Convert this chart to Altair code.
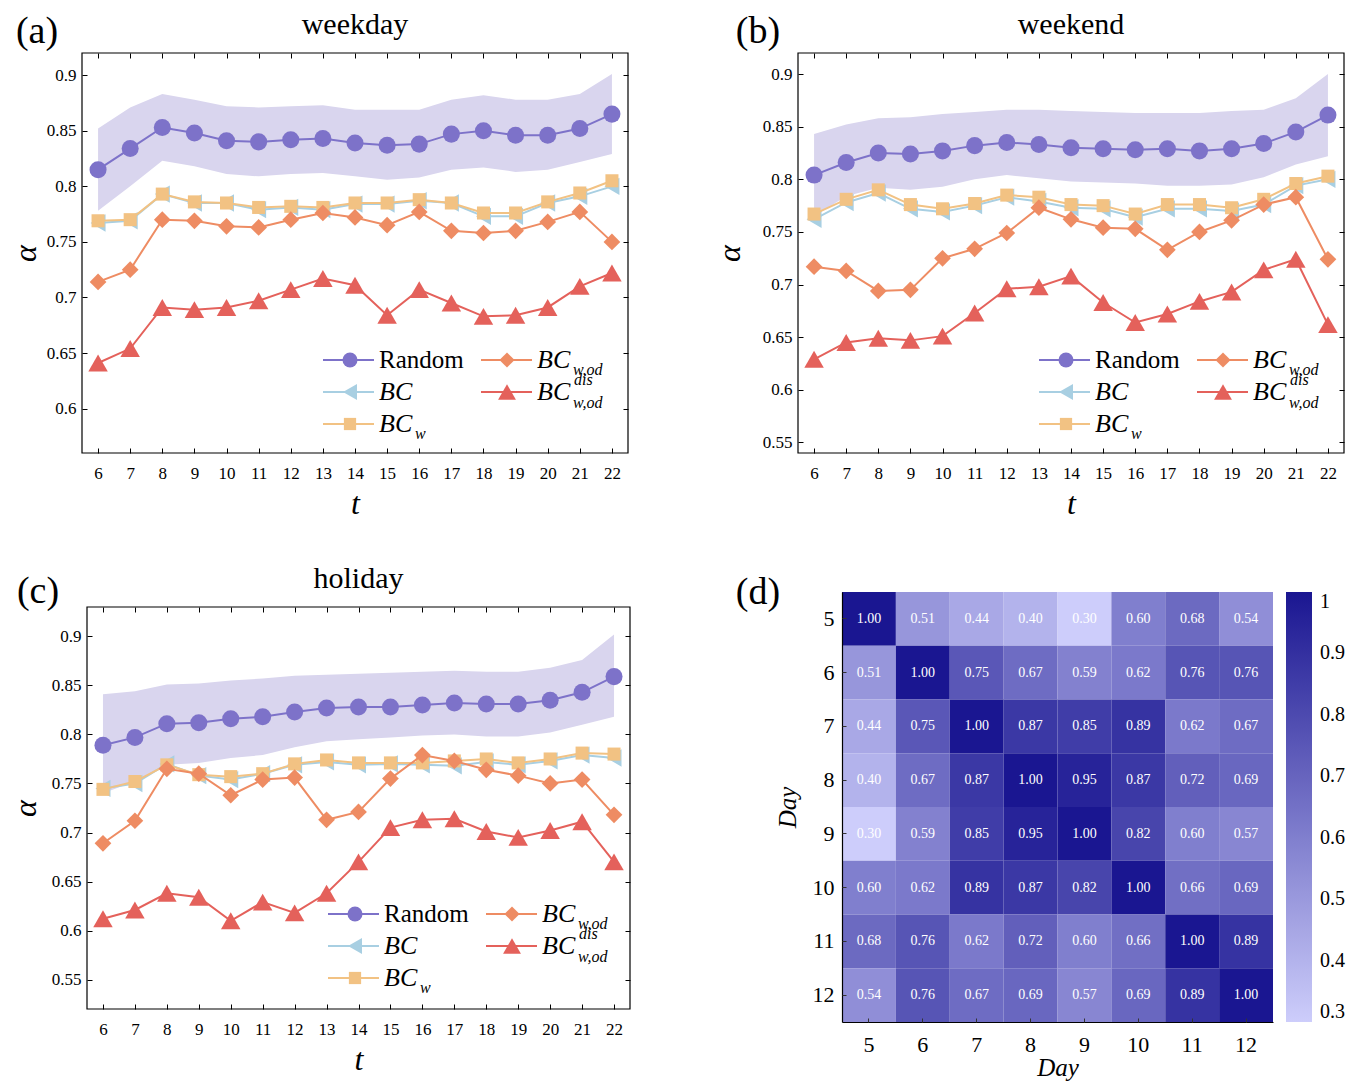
import altair as alt
import pandas as pd

SERIF = "Liberation Serif"

HOURS = list(range(6, 23))
SERIES = ["Random", "BC", "BC_w", "BC_w,od", "BC_w,od^dis"]
COLORS = ["#7d72c9", "#a8cfe2", "#f2c283", "#ee8c63", "#e4615b"]
SHAPES = ["circle", "triangle-left", "square", "diamond", "triangle-up"]
SIZES = [290, 300, 170, 280, 380]
LEG_SIZES = [225, 260, 150, 230, 320]
BAND = "#d9d5ee"

# ---- (a) weekday ----
rand_a = [0.815, 0.834, 0.853, 0.848, 0.841, 0.840, 0.842, 0.843, 0.839, 0.837, 0.838, 0.847, 0.850, 0.846, 0.846, 0.852, 0.865]
hi_a = [0.852, 0.871, 0.883, 0.878, 0.872, 0.871, 0.872, 0.873, 0.869, 0.869, 0.869, 0.878, 0.882, 0.878, 0.878, 0.883, 0.901]
lo_a = [0.778, 0.800, 0.823, 0.818, 0.811, 0.809, 0.811, 0.812, 0.809, 0.806, 0.808, 0.815, 0.817, 0.813, 0.815, 0.822, 0.829]
bc_a = [0.767, 0.769, 0.793, 0.785, 0.785, 0.779, 0.781, 0.779, 0.784, 0.784, 0.787, 0.785, 0.773, 0.773, 0.785, 0.791, 0.800]
bcw_a = [0.769, 0.770, 0.793, 0.786, 0.785, 0.781, 0.782, 0.781, 0.785, 0.785, 0.788, 0.785, 0.776, 0.776, 0.786, 0.794, 0.805]
bcwod_a = [0.714, 0.725, 0.770, 0.769, 0.764, 0.763, 0.770, 0.776, 0.772, 0.765, 0.777, 0.760, 0.758, 0.760, 0.768, 0.777, 0.750]
bcdis_a = [0.641, 0.654, 0.691, 0.689, 0.691, 0.697, 0.707, 0.717, 0.711, 0.684, 0.707, 0.695, 0.683, 0.684, 0.691, 0.710, 0.722]

# ---- (b) weekend ----
rand_b = [0.804, 0.816, 0.825, 0.824, 0.827, 0.832, 0.835, 0.833, 0.830, 0.829, 0.828, 0.829, 0.827, 0.829, 0.834, 0.845, 0.861]
hi_b = [0.843, 0.852, 0.858, 0.859, 0.862, 0.864, 0.866, 0.866, 0.865, 0.864, 0.863, 0.863, 0.863, 0.865, 0.866, 0.877, 0.900]
lo_b = [0.765, 0.784, 0.792, 0.790, 0.793, 0.800, 0.804, 0.801, 0.798, 0.797, 0.796, 0.794, 0.794, 0.795, 0.802, 0.814, 0.822]
bc_b = [0.762, 0.778, 0.787, 0.772, 0.769, 0.775, 0.783, 0.779, 0.773, 0.772, 0.764, 0.772, 0.772, 0.770, 0.776, 0.794, 0.800]
bcw_b = [0.767, 0.781, 0.790, 0.776, 0.772, 0.777, 0.785, 0.783, 0.776, 0.775, 0.767, 0.776, 0.776, 0.773, 0.781, 0.796, 0.803]
bcwod_b = [0.717, 0.713, 0.694, 0.695, 0.725, 0.734, 0.749, 0.773, 0.762, 0.754, 0.753, 0.733, 0.750, 0.761, 0.776, 0.783, 0.724]
bcdis_b = [0.629, 0.645, 0.649, 0.647, 0.651, 0.673, 0.696, 0.698, 0.708, 0.683, 0.664, 0.672, 0.684, 0.693, 0.714, 0.724, 0.662]

# ---- (c) holiday ----
rand_c = [0.789, 0.797, 0.811, 0.812, 0.816, 0.818, 0.823, 0.827, 0.828, 0.828, 0.830, 0.832, 0.831, 0.831, 0.835, 0.843, 0.859]
hi_c = [0.841, 0.844, 0.851, 0.852, 0.855, 0.857, 0.860, 0.861, 0.862, 0.863, 0.864, 0.865, 0.864, 0.864, 0.868, 0.876, 0.902]
lo_c = [0.740, 0.752, 0.769, 0.771, 0.776, 0.779, 0.787, 0.793, 0.795, 0.797, 0.799, 0.800, 0.798, 0.798, 0.802, 0.810, 0.818]
bc_c = [0.745, 0.750, 0.770, 0.758, 0.754, 0.760, 0.769, 0.772, 0.769, 0.770, 0.769, 0.768, 0.772, 0.769, 0.773, 0.779, 0.776]
bcw_c = [0.744, 0.752, 0.769, 0.759, 0.757, 0.760, 0.770, 0.774, 0.771, 0.771, 0.771, 0.773, 0.775, 0.771, 0.775, 0.781, 0.780]
bcwod_c = [0.689, 0.712, 0.765, 0.760, 0.738, 0.754, 0.756, 0.713, 0.721, 0.755, 0.779, 0.773, 0.764, 0.758, 0.750, 0.754, 0.718]
bcdis_c = [0.612, 0.621, 0.638, 0.634, 0.610, 0.629, 0.618, 0.638, 0.670, 0.705, 0.713, 0.714, 0.701, 0.695, 0.702, 0.711, 0.670]

YT_A = [0.6, 0.65, 0.7, 0.75, 0.8, 0.85, 0.9]
YT_B = [0.55, 0.6, 0.65, 0.7, 0.75, 0.8, 0.85, 0.9]

# ---- (d) day-to-day correlation ----
DAYS = [5, 6, 7, 8, 9, 10, 11, 12]
CORR = [
    [1.00, 0.51, 0.44, 0.40, 0.30, 0.60, 0.68, 0.54],
    [0.51, 1.00, 0.75, 0.67, 0.59, 0.62, 0.76, 0.76],
    [0.44, 0.75, 1.00, 0.87, 0.85, 0.89, 0.62, 0.67],
    [0.40, 0.67, 0.87, 1.00, 0.95, 0.87, 0.72, 0.69],
    [0.30, 0.59, 0.85, 0.95, 1.00, 0.82, 0.60, 0.57],
    [0.60, 0.62, 0.89, 0.87, 0.82, 1.00, 0.66, 0.69],
    [0.68, 0.76, 0.62, 0.72, 0.60, 0.66, 1.00, 0.89],
    [0.54, 0.76, 0.67, 0.69, 0.57, 0.69, 0.89, 1.00],
]
CB_TICKS = [0.3, 0.4, 0.5, 0.6, 0.7, 0.8, 0.9, 1.0]

ONE = pd.DataFrame({"k": [0]})

# legend layout (pixels relative to plot frame)
LEG_COLS = [(241, 292, 268, 297), (399, 450, 425, 455)]
LEG_ROWS = [307, 339, 371]
LEG_POS = [(0, 0), (0, 1), (0, 2), (1, 0), (1, 1)]
LEG_TEXT = [
    [("Random", 0, 0, 25, "normal")],
    [("BC", 0, 0, 26, "italic")],
    [("BC", 0, 0, 26, "italic"), ("w", 36, 10, 16, "italic")],
    [("BC", 0, 0, 26, "italic"), ("w,od", 36, 10, 16, "italic")],
    [("BC", 0, 0, 26, "italic"), ("dis", 37, -12, 16, "italic"), ("w,od", 36, 11, 16, "italic")],
]


def txt(text, x, y, size, style="normal", align="center"):
    return alt.Chart(ONE).mark_text(text=text, font=SERIF, fontSize=size, fontStyle=style,
                                    align=align, baseline="middle", color="black").encode(
        x=alt.value(x), y=alt.value(y))


def legend_layers(ox, oy):
    layers = []
    for i in range(len(SERIES)):
        col, row = LEG_POS[i]
        x0, x1, xm, xt = LEG_COLS[col]
        y = LEG_ROWS[row] + oy
        layers.append(
            alt.Chart(ONE).mark_rule(color=COLORS[i], strokeWidth=2).encode(
                x=alt.value(x0 + ox), x2=alt.value(x1 + ox), y=alt.value(y)))
        layers.append(
            alt.Chart(ONE).mark_point(shape=SHAPES[i], filled=True, size=LEG_SIZES[i],
                                      color=COLORS[i], opacity=1).encode(
                x=alt.value(xm + ox), y=alt.value(y)))
        for t, dx, dy, fs, style in LEG_TEXT[i]:
            layers.append(txt(t, xt + dx + ox, y + dy, fs, style, "left"))
    return layers


def line_panel(title, label, lab_xy, vals, ydom, yticks, W, H, ytitle_pad,
               pad_left=0, pad_top=0, pad_right=0):
    rand, lo, hi, bc, bcw, bcwod, bcdis = vals
    series_vals = [rand, bc, bcw, bcwod, bcdis]
    gw = pad_left + W + pad_right
    gh = pad_top + H
    ux = 17.0 / W
    uy = (ydom[1] - ydom[0]) / H
    xs = alt.Scale(domain=[5.5 - pad_left * ux, 22.5 + pad_right * ux], nice=False, zero=False)
    ys = alt.Scale(domain=[ydom[0], ydom[1] + pad_top * uy], nice=False, zero=False)

    frame = alt.Chart(ONE).mark_rect(filled=False, stroke="black", strokeWidth=1.2).encode(
        x=alt.value(pad_left), x2=alt.value(pad_left + W),
        y=alt.value(pad_top), y2=alt.value(pad_top + H))

    band_df = pd.DataFrame({"hour": HOURS, "lo": lo, "hi": hi})
    band = alt.Chart(band_df).mark_area(color=BAND, opacity=1).encode(
        x=alt.X("hour:Q", scale=xs, axis=alt.Axis(
            orient="top", values=HOURS, offset=-(pad_top + 5), tickSize=5, domain=False,
            labels=False, title=None, grid=False, tickColor="black", tickWidth=1)),
        y=alt.Y("lo:Q", scale=ys, axis=alt.Axis(
            orient="right", values=yticks, offset=-(pad_right + 5), tickSize=5, domain=False,
            labels=False, title=None, grid=False, tickColor="black", tickWidth=1)),
        y2="hi:Q",
    )
    layers = [band, frame]
    for i, arr in enumerate(series_vals):
        d = pd.DataFrame({"hour": HOURS, "value": arr, "series": SERIES[i]})
        if i == 0:
            xenc = alt.X("hour:Q", scale=xs, axis=alt.Axis(
                orient="bottom", values=HOURS, format="d", offset=-5, tickSize=5,
                domain=False, grid=False, tickColor="black", tickWidth=1,
                labelFont=SERIF, labelFontSize=17, labelPadding=12, labelColor="black",
                title="t", titleFont=SERIF, titleFontStyle="italic", titleFontSize=32,
                titleFontWeight="normal", titlePadding=7, titleColor="black",
                titleX=pad_left + W / 2))
            yenc = alt.Y("value:Q", scale=ys, axis=alt.Axis(
                orient="left", values=yticks, format=".2~f", offset=-(pad_left + 5), tickSize=5,
                domain=False, grid=False, tickColor="black", tickWidth=1,
                labelFont=SERIF, labelFontSize=17, labelPadding=6, labelColor="black",
                title="α", titleFont=SERIF, titleFontStyle="italic", titleFontSize=32,
                titleFontWeight="normal", titlePadding=ytitle_pad, titleColor="black",
                titleY=pad_top + H / 2))
        else:
            xenc = alt.X("hour:Q", scale=xs, axis=None)
            yenc = alt.Y("value:Q", scale=ys, axis=None)
        layers.append(alt.Chart(d).mark_line(color=COLORS[i], strokeWidth=2).encode(x=xenc, y=yenc))
        layers.append(alt.Chart(d).mark_point(shape=SHAPES[i], filled=True, size=SIZES[i],
                                              color=COLORS[i], opacity=1).encode(
            x=alt.X("hour:Q", scale=xs, axis=None), y=alt.Y("value:Q", scale=ys, axis=None)))
    layers += legend_layers(pad_left, pad_top)
    layers.append(txt(label, lab_xy[0] + pad_left, lab_xy[1] + pad_top, 38))
    layers.append(txt(title, pad_left + W / 2, pad_top - 28, 30))
    return alt.layer(*layers).resolve_axis(x="independent", y="independent").properties(
        width=gw, height=gh)


pa = line_panel("weekday", "(a)", (-45, -21),
                (rand_a, lo_a, hi_a, bc_a, bcw_a, bcwod_a, bcdis_a), [0.56, 0.92], YT_A, 546, 400, 4)
pb = line_panel("weekend", "(b)", (-40, -21),
                (rand_b, lo_b, hi_b, bc_b, bcw_b, bcwod_b, bcdis_b), [0.54, 0.92], YT_B, 546, 400, 16)
pc = line_panel("holiday", "(c)", (-49, -15),
                (rand_c, lo_c, hi_c, bc_c, bcw_c, bcwod_c, bcdis_c), [0.52, 0.93], YT_B, 543, 402, 9,
                pad_left=5, pad_top=15, pad_right=0)

# heatmap
HM_PAD = 44
HM_W = 431
HM_H = 430
rows = []
for ri, rday in enumerate(DAYS):
    for ci, cday in enumerate(DAYS):
        rows.append({"r": rday, "c": cday, "v": CORR[ri][ci]})
hdf = pd.DataFrame(rows)

xscale_h = alt.Scale(range=[HM_PAD, HM_PAD + HM_W], paddingInner=0, paddingOuter=0)
yscale_h = alt.Scale(paddingInner=0, paddingOuter=0)
xh = alt.X("c:O", sort=DAYS, scale=xscale_h, axis=alt.Axis(
    labelAngle=0, labelFont=SERIF, labelFontSize=22, labelPadding=12, labelColor="black",
    ticks=False, tickSize=0, domain=True, domainColor="black", domainWidth=1.2,
    title="Day", titleFont=SERIF, titleFontStyle="italic", titleFontSize=25,
    titleFontWeight="normal", titlePadding=0, titleColor="black", grid=False,
    titleX=HM_PAD + HM_W / 2))
yh = alt.Y("r:O", sort=DAYS, scale=yscale_h, axis=alt.Axis(
    labelAngle=0, labelFont=SERIF, labelFontSize=22, labelPadding=8, labelColor="black",
    ticks=False, tickSize=0, domain=True, domainColor="black", domainWidth=1.2, offset=-HM_PAD,
    title="Day", titleFont=SERIF, titleFontStyle="italic", titleFontSize=25,
    titleFontWeight="normal", titlePadding=12, titleColor="black", grid=False))

heat = alt.Chart(hdf).mark_rect().encode(
    x=xh, y=yh,
    color=alt.Color("v:Q", scale=alt.Scale(domain=[0.3, 1.0], range=["#cdcdfb", "#1a1691"],
                                           interpolate="rgb"),
                    legend=alt.Legend(orient="right", offset=13, gradientLength=HM_H,
                                      gradientThickness=26, labelFont=SERIF, labelFontSize=20,
                                      labelOffset=8, values=CB_TICKS, format=".1~f", title=None,
                                      padding=0, gradientStrokeWidth=0, labelColor="black",
                                      direction="vertical")),
)
# inward tick marks of the heatmap axes (second, label-less axes drawn above the cells)
htext = alt.Chart(hdf).mark_text(color="white", font=SERIF, fontSize=14).encode(
    x=alt.X("c:O", sort=DAYS, scale=xscale_h, axis=alt.Axis(
        orient="bottom", offset=-4, tickSize=4, domain=False, labels=False, title=None,
        grid=False, tickColor="#333333", tickWidth=1, zindex=1)),
    y=alt.Y("r:O", sort=DAYS, scale=yscale_h, axis=alt.Axis(
        orient="left", offset=-(HM_PAD + 4), tickSize=4, domain=False, labels=False, title=None,
        grid=False, tickColor="#333333", tickWidth=1, zindex=1)),
    text=alt.Text("v:Q", format=".2f"))
pd_chart = alt.layer(heat, htext, txt("(d)", HM_PAD - 84, 1, 38)).resolve_axis(
    x="independent", y="independent").properties(width=HM_PAD + HM_W, height=HM_H)

chart = alt.concat(pa, pb, pc, pd_chart, columns=2, bounds="flush",
                   spacing={"row": 139, "column": 168}).resolve_legend(
    color="independent").properties(
    padding={"left": 0, "top": 1, "right": 0, "bottom": 0}
).configure(font=SERIF).configure_view(stroke="transparent")

chart.save("out.html", embed_options={"renderer": "svg", "actions": False})
